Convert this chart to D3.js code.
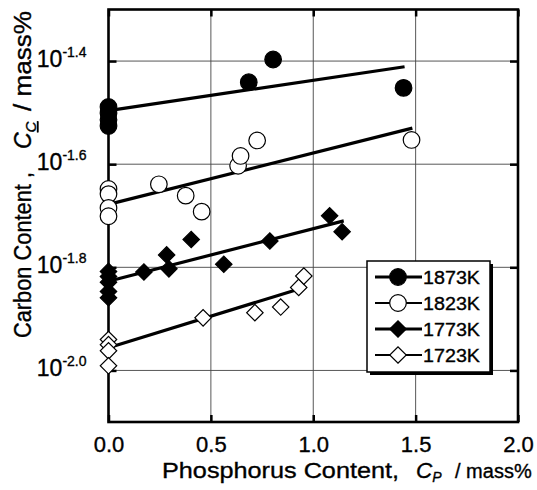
<!DOCTYPE html>
<html>
<head>
<meta charset="utf-8">
<script src="https://cdn.jsdelivr.net/npm/d3@7"></script>
<style>
  body { margin: 0; background: #fff; }
  svg { display: block; font-family: "Liberation Sans", Arial, sans-serif; }
  text { stroke: #000; stroke-width: 0.35px; }
</style>
</head>
<body>
<div id="chart"></div>
<script>
// values: P content (mass%) and log10 of C content (mass%)
const labels = ["1873K", "1823K", "1773K", "1723K"];

const p1873 = [0, 0, 0, 0, 0.685, 0.804, 1.441];
const c1873 = [-1.489, -1.501, -1.514, -1.526, -1.441, -1.397, -1.452];

const p1823 = [0, 0, 0, 0, 0.246, 0.377, 0.455, 0.633, 0.645, 0.726, 1.480];
const c1823 = [-1.648, -1.658, -1.685, -1.701, -1.639, -1.661, -1.692, -1.603, -1.584, -1.554, -1.553];

const p1773 = [0, 0, 0, 0, 0, 0.173, 0.284, 0.295, 0.404, 0.563, 0.788, 1.080, 1.141];
const c1773 = [-1.808, -1.818, -1.829, -1.847, -1.859, -1.809, -1.776, -1.803, -1.746, -1.794, -1.749, -1.700, -1.731];

const p1723 = [0, 0, 0, 0, 0.462, 0.715, 0.841, 0.929, 0.954];
const c1723 = [-1.940, -1.950, -1.962, -1.991, -1.898, -1.888, -1.877, -1.839, -1.817];

// fitted lines (start / end)
const fitP = [[0, 1.446], [0, 1.484], [0, 1.149], [0, 0.923]];
const fitC = [[-1.496, -1.411], [-1.678, -1.530], [-1.827, -1.710], [-1.956, -1.843]];

const xTicks = [0, 0.5, 1.0, 1.5, 2.0];
const yTicks = [-1.4, -1.6, -1.8, -2.0];

const W = 537, H = 490;
const mLeft = 108.5, mRight = 518, mTop = 9.5, mBottom = 422;

const svg = d3.select("#chart").append("svg")
    .attr("width", W)
    .attr("height", H);

const x = d3.scaleLinear().domain([0, 2]).range([mLeft, mRight]);
const y = d3.scaleLog().domain([Math.pow(10, -2.1), Math.pow(10, -1.3)]).range([mBottom, mTop]);

// grid
const grid = svg.append("g").attr("stroke", "#444").attr("stroke-width", 0.9);
grid.selectAll(".gx").data(xTicks.slice(1, -1)).enter().append("line")
    .attr("x1", d => x(d)).attr("x2", d => x(d))
    .attr("y1", mTop).attr("y2", mBottom);
grid.selectAll(".gy").data(yTicks).enter().append("line")
    .attr("x1", mLeft).attr("x2", mRight)
    .attr("y1", d => y(Math.pow(10, d))).attr("y2", d => y(Math.pow(10, d)));

// axes with inward ticks
const xAxis = svg.append("g")
    .attr("transform", `translate(0,${mBottom})`)
    .call(d3.axisBottom(x).tickValues(xTicks).tickSizeInner(-7).tickSizeOuter(0)
        .tickPadding(14).tickFormat(d3.format(".1f")));
xAxis.select(".domain").remove();
xAxis.selectAll(".tick line").attr("stroke-width", 2.5);
xAxis.selectAll(".tick text")
    .attr("font-size", 22)
    .attr("font-family", "Liberation Sans, Arial, sans-serif")
    .attr("fill", "#000")
    .attr("dy", "0.71em");

svg.append("g")
    .attr("transform", `translate(0,${mTop})`)
    .call(d3.axisTop(x).tickValues(xTicks).tickSizeInner(-7).tickSizeOuter(0).tickFormat(""))
    .call(g => g.select(".domain").remove())
    .selectAll(".tick line").attr("stroke-width", 2.5);

const yAxis = svg.append("g")
    .attr("transform", `translate(${mLeft},0)`)
    .call(d3.axisLeft(y).tickValues(yTicks.map(d => Math.pow(10, d))).tickSizeInner(-8)
        .tickSizeOuter(0).tickPadding(22).tickFormat(""));
yAxis.select(".domain").remove();
yAxis.selectAll(".tick line").attr("stroke-width", 2.5);
yAxis.selectAll(".tick text")
    .attr("font-family", "Liberation Sans, Arial, sans-serif")
    .attr("fill", "#000")
    .attr("dy", null)
    .attr("y", 5.5)
    .each(function (d, i) {
        const t = d3.select(this);
        t.append("tspan").attr("font-size", 23).text("10");
        t.append("tspan").attr("font-size", 14).attr("dy", -10.5).text(yTicks[i].toFixed(1));
    });

svg.append("g")
    .attr("transform", `translate(${mRight},0)`)
    .call(d3.axisRight(y).tickValues(yTicks.map(d => Math.pow(10, d))).tickSizeInner(-8)
        .tickSizeOuter(0).tickFormat(""))
    .call(g => g.select(".domain").remove())
    .selectAll(".tick line").attr("stroke-width", 2.5);

// frame
svg.append("rect")
    .attr("x", mLeft).attr("y", mTop)
    .attr("width", mRight - mLeft).attr("height", mBottom - mTop)
    .attr("fill", "none").attr("stroke", "#000").attr("stroke-width", 2.6);

// fitted lines
const line = d3.line().x(d => x(d[0])).y(d => y(Math.pow(10, d[1])));
svg.append("g").selectAll("path")
    .data(fitP.map((ps, i) => ps.map((p, j) => [p, fitC[i][j]])))
    .enter().append("path")
    .attr("d", line)
    .attr("fill", "none")
    .attr("stroke", "#000")
    .attr("stroke-width", 3.2);

// markers
const diamond = d3.symbol().type(d3.symbolSquare).size(135);
const styles = [
    { shape: "circle", fill: "#000" },
    { shape: "circle", fill: "#fff" },
    { shape: "diamond", fill: "#000" },
    { shape: "diamond", fill: "#fff" }
];

function drawMarker(g, shape, fill) {
    if (shape === "circle") {
        g.append("circle").attr("r", 8.3)
            .attr("fill", fill).attr("stroke", "#000").attr("stroke-width", 1.2);
    } else {
        g.append("path").attr("d", diamond()).attr("transform", "rotate(45)")
            .attr("fill", fill).attr("stroke", "#000").attr("stroke-width", 1.2);
    }
}

const allP = [p1873, p1823, p1773, p1723];
const allC = [c1873, c1823, c1773, c1723];
allP.forEach((ps, i) => {
    const pts = ps.map((p, j) => ({ p: p, c: allC[i][j] }));
    svg.append("g").selectAll("g")
        .data(pts)
        .enter().append("g")
        .attr("transform", d => `translate(${x(d.p)},${y(Math.pow(10, d.c))})`)
        .each(function () { drawMarker(d3.select(this), styles[i].shape, styles[i].fill); });
});

// legend
const lg = svg.append("g").attr("transform", "translate(367,261)");
lg.append("rect").attr("x", 3).attr("y", 3).attr("width", 123).attr("height", 111).attr("fill", "#000");
lg.append("rect").attr("width", 123).attr("height", 111)
    .attr("fill", "#fff").attr("stroke", "#000").attr("stroke-width", 1.5);
labels.forEach((lab, i) => {
    const row = lg.append("g").attr("transform", `translate(0,${16 + i * 26})`);
    row.append("line").attr("x1", 8).attr("x2", 55)
        .attr("stroke", "#000").attr("stroke-width", i % 2 === 0 ? 3 : 2);
    const m = row.append("g").attr("transform", "translate(31,0)");
    drawMarker(m, styles[i].shape, styles[i].fill);
    row.append("text").attr("x", 56).attr("y", 6.8)
        .attr("font-size", 18)
        .attr("textLength", 57).attr("lengthAdjust", "spacingAndGlyphs")
        .attr("fill", "#000")
        .text(lab);
});

// x title (pieces placed as in the figure)
svg.append("text").attr("x", 162).attr("y", 478).attr("font-size", 22.5)
    .attr("textLength", 237).attr("lengthAdjust", "spacingAndGlyphs")
    .text("Phosphorus Content,");
const xc = svg.append("text").attr("x", 416).attr("y", 478).attr("font-size", 22.5)
    .attr("font-style", "italic");
xc.append("tspan").text("C");
xc.append("tspan").attr("font-size", 14).attr("dy", 4).text("P");
svg.append("text").attr("x", 455).attr("y", 478).attr("font-size", 20)
    .text("/ mass%");

// y title
const yt = svg.append("text").attr("transform", "translate(31,0) rotate(-90)")
    .attr("font-size", 23).attr("fill", "#000");
yt.append("tspan").attr("x", -338).attr("textLength", 166).attr("lengthAdjust", "spacingAndGlyphs")
    .text("Carbon Content ,");
yt.append("tspan").attr("x", -149).attr("font-style", "italic").text("C");
yt.append("tspan").attr("font-size", 15).attr("font-style", "italic").attr("dy", 5)
    .attr("text-decoration", "underline").text("C");
yt.append("tspan").attr("x", -111).attr("dy", -5).attr("textLength", 100).attr("lengthAdjust", "spacingAndGlyphs")
    .text("/ mass%");
</script>
</body>
</html>
